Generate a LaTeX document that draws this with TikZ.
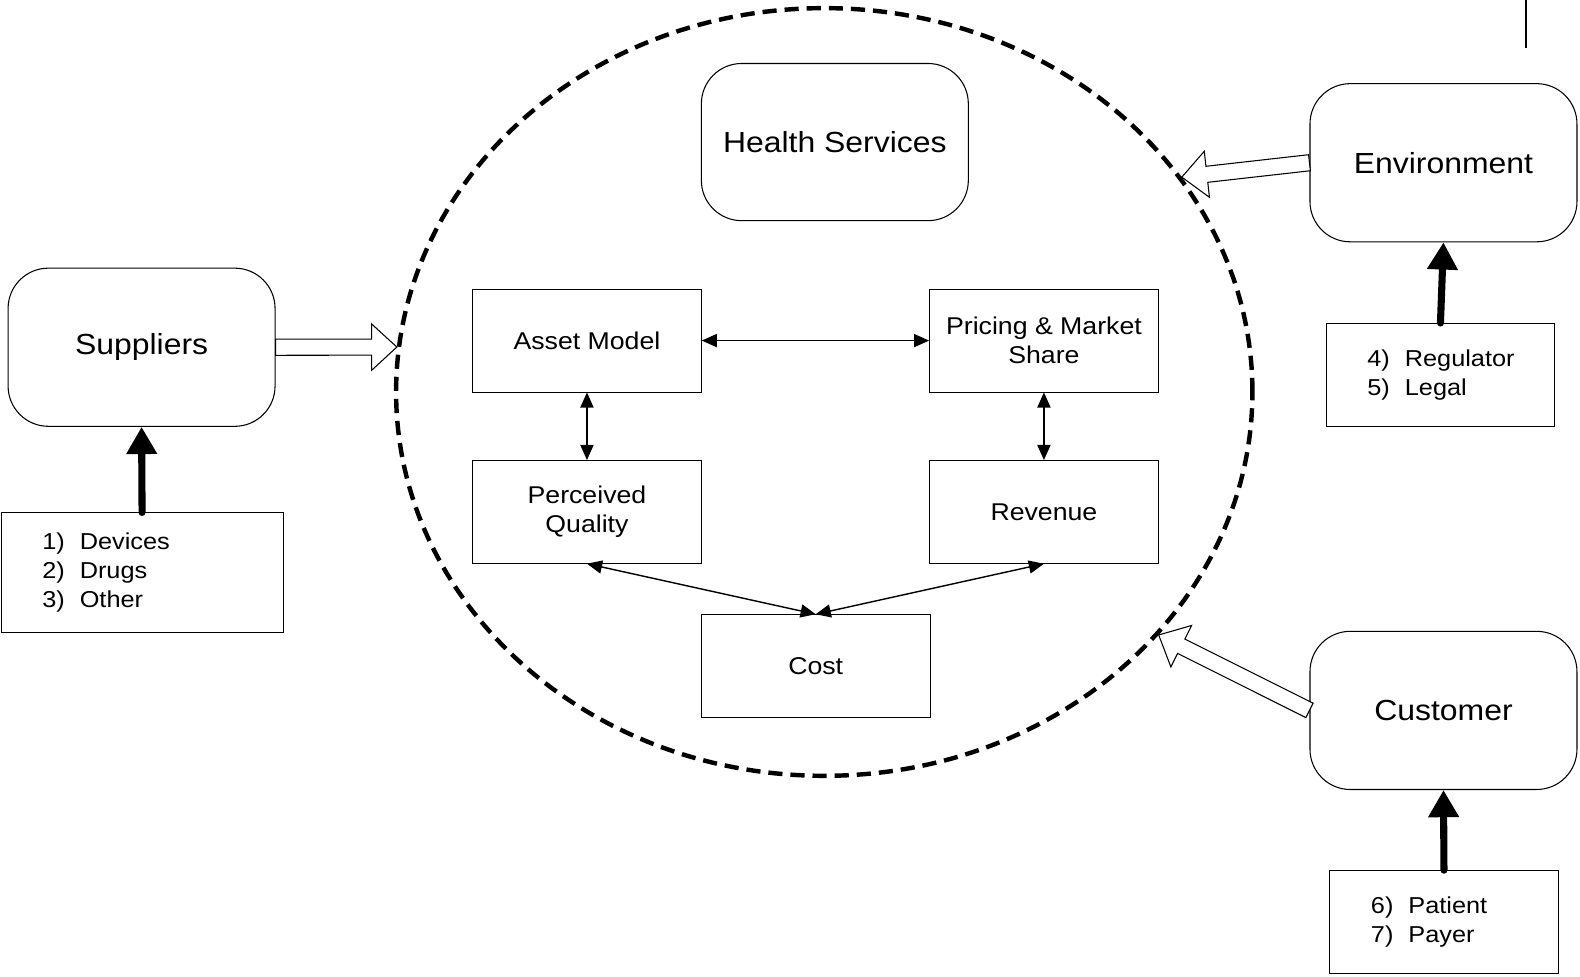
\documentclass[tikz,border=0pt]{standalone}
\usepackage{fontspec}
\setmainfont{Liberation Sans}[FakeStretch=1.1]
\usepackage{tikz}
\usetikzlibrary{shapes,arrows.meta,calc}
\tikzstyle{unit} = [draw, line width=0.6pt, rounded corners=0.8cm, text centered, minimum width=5.3cm, minimum height=3.14cm, font=\fontsize{16.4}{19}\selectfont]
\tikzstyle{block} = [draw, line width=0.5pt, align=center, minimum width=4.54cm, minimum height=2.04cm, font=\fontsize{13.7}{16.4}\selectfont]
\tikzstyle{listbox} = [draw, line width=0.5pt, align=left, inner xsep=0.41cm, text width=3.72cm, minimum height=2.04cm, font=\fontsize{13}{16.4}\selectfont]
\tikzstyle{boundary} = [draw, ellipse, line width=2.5pt, dash pattern=on 8pt off 4.5pt, minimum width=17cm, minimum height=15.24cm, inner sep=0pt]
\tikzstyle{link} = [draw, line width=0.8pt, {Triangle[length=0.3cm,width=0.26cm]}-{Triangle[length=0.3cm,width=0.26cm]}]
\tikzstyle{feed} = [draw, line width=4pt, line cap=round, -{Triangle[length=0.54cm,width=0.58cm]}]
\tikzstyle{hollow} = [draw, line width=0.6pt, fill=white, line join=miter]
\newcommand{\entry}[2]{\hspace*{0.41cm}#1)\hspace{0.65em}#2}
\newcommand{\hollowarrow}[2]{%
  \coordinate (hb) at ($(#2)!0.5cm!(#1)$);
  \path [hollow] ($(#1)!0.16cm!90:(#2)$) -- ($(hb)!0.16cm!90:(#2)$) -- ($(hb)!0.46cm!90:(#2)$) -- (#2)
    -- ($(hb)!0.46cm!-90:(#2)$) -- ($(hb)!0.16cm!-90:(#2)$) -- ($(#1)!0.16cm!-90:(#2)$) -- cycle;}
\begin{document}
\begin{tikzpicture}[x=0.02cm, y=-0.02cm]
\useasboundingbox (0,0) rectangle (1568,969);

% health services
\node (hs) [boundary] at (818,389) {};
\node (health) [unit, minimum height=3.12cm] at (828.5,141) {Health Services};
\node (asset) [block] at (582.5,338) {Asset Model};
\node (price) [block] at (1036,338) {Pricing \& Market\\Share};
\node (qual) [block] at (582.5,508) {Perceived\\Quality};
\node (rev) [block] at (1036,508) {Revenue};
\node (cost) [block] at (809.5,661) {Cost};

\path [link] (asset.east) -- (price.west);
\path [link] (asset.south) -- (qual.north);
\path [link] (price.south) -- (rev.north);
\path [link] (qual.south) -- (cost.north);
\path [link] (rev.south) -- (cost.north);

% suppliers
\node (sup) [unit] at (140.5,344.6) {Suppliers};
\node (suplist) [listbox, text width=4.78cm, minimum height=2.38cm] at (141,568.5) {\entry{1}{Devices}\\\entry{2}{Drugs}\\\entry{3}{Other}};
\path [feed] (suplist.north) -- (sup.south);
\hollowarrow{sup.east}{hs.174}

% environment
\node (env) [unit] at (1432.5,161.5) {Environment};
\node (envlist) [listbox] at (1429.5,372) {\entry{4}{Regulator}\\\entry{5}{Legal}};
\path [feed] (envlist.north) -- (env.south);
\hollowarrow{env.west}{hs.31}

% customer
\node (cust) [unit] at (1432.5,705) {Customer};
\node (custlist) [listbox] at (1433,915) {\entry{6}{Patient}\\\entry{7}{Payer}};
\path [feed] (custlist.north) -- (cust.south);
\hollowarrow{cust.west}{hs.-36}

\draw [line width=1.2pt] (1514,0) -- (1514,48);
\end{tikzpicture}
\end{document}
